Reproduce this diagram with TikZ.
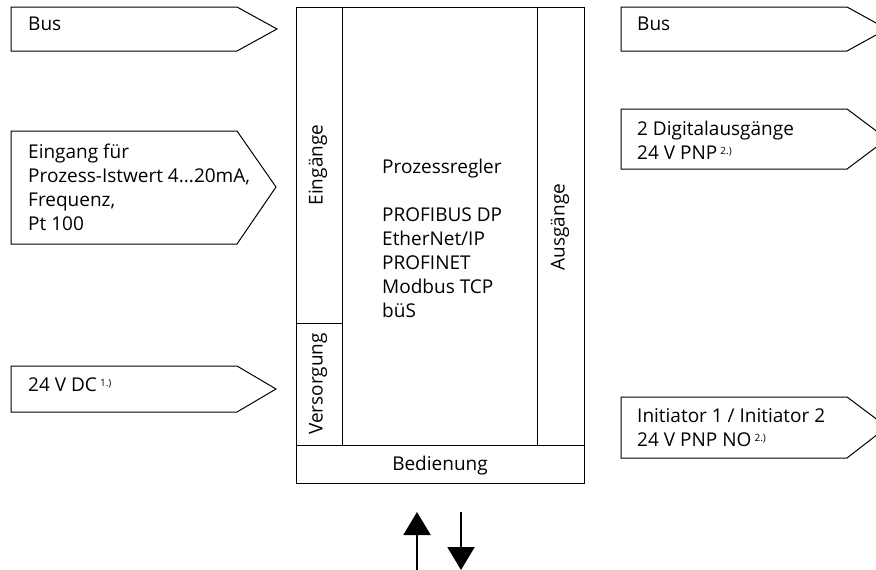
\documentclass[tikz,border=0pt]{standalone}
\usepackage{fontspec}
\setmainfont{Open Sans}
\usetikzlibrary{arrows.meta}
\newcommand{\fnref}[1]{\,{\fontsize{10}{10}\selectfont\raisebox{5pt}{#1}}}
\begin{document}
\begin{tikzpicture}[x=1pt,y=-1pt,
  shape line/.style={draw=black,line width=1pt,line join=miter},
  lbl/.style={font=\fontsize{19}{24}\selectfont,inner sep=0pt,align=left},
  rot/.style={font=\fontsize{19}{24}\selectfont,inner sep=0pt,rotate=90},
  bigarrow/.style={line width=2pt,-{Triangle[length=23pt,width=27pt]}}]
\useasboundingbox (0,0) rectangle (876,570);
\clip (0,0) rectangle (876,570);
% left signal shapes
\draw[shape line] (11,7) -- (237,7) -- (277,29) -- (237,51) -- (11,51) -- cycle;
\node[lbl,anchor=mid west] (busL) at (28,28) {Bus};
\draw[shape line] (11,131) -- (237,131) -- (276,187) -- (237,244) -- (11,244) -- cycle;
\node[lbl,anchor=west] (eingang) at (28,187) {Eingang für\\Prozess-Istwert 4...20mA,\\Frequenz,\\Pt 100};
\draw[shape line] (11,366) -- (237,366) -- (276,389) -- (237,412) -- (11,412) -- cycle;
\node[lbl,anchor=mid west] (dc) at (28,389) {24 V DC\fnref{1.)}};
% right signal shapes
\draw[shape line] (621,7) -- (847,7) -- (887,29) -- (847,51) -- (621,51) -- cycle;
\node[lbl,anchor=mid west] (busR) at (637,28) {Bus};
\draw[shape line] (621,109) -- (847,109) -- (887,139) -- (847,169) -- (621,169) -- cycle;
\node[lbl,anchor=west] (digital) at (637,140) {2 Digitalausgänge\\24 V PNP\fnref{2.)}};
\draw[shape line] (621,397) -- (847,397) -- (887,427) -- (847,458) -- (621,458) -- cycle;
\node[lbl,anchor=west] (initiator) at (637,428) {Initiator 1 / Initiator 2\\24 V PNP NO\fnref{2.)}};
% main box
\draw[shape line] (296,7) rectangle (584,483);
\draw[shape line] (342,7) -- (342,445);
\draw[shape line] (296,323) -- (342,323);
\draw[shape line] (537,7) -- (537,445);
\draw[shape line] (296,445) -- (584,445);
\node[rot] (eing) at (318,165) {Eingänge};
\node[rot] (vers) at (318,384) {Versorgung};
\node[rot] (ausg) at (560,227) {Ausgänge};
\node[lbl] (bed) at (440,466) {Bedienung};
\node[lbl,anchor=west] (proz) at (382,238) {Prozessregler\\[24pt]PROFIBUS DP\\EtherNet/IP\\PROFINET\\Modbus TCP\\büS};
% bottom arrows
\coordinate (u1) at (417,572);
\coordinate (u2) at (417,512);
\coordinate (d1) at (461,512);
\coordinate (d2) at (461,570);
\draw[bigarrow] (u1) -- (u2);
\draw[bigarrow] (d1) -- (d2);
\end{tikzpicture}
\end{document}
